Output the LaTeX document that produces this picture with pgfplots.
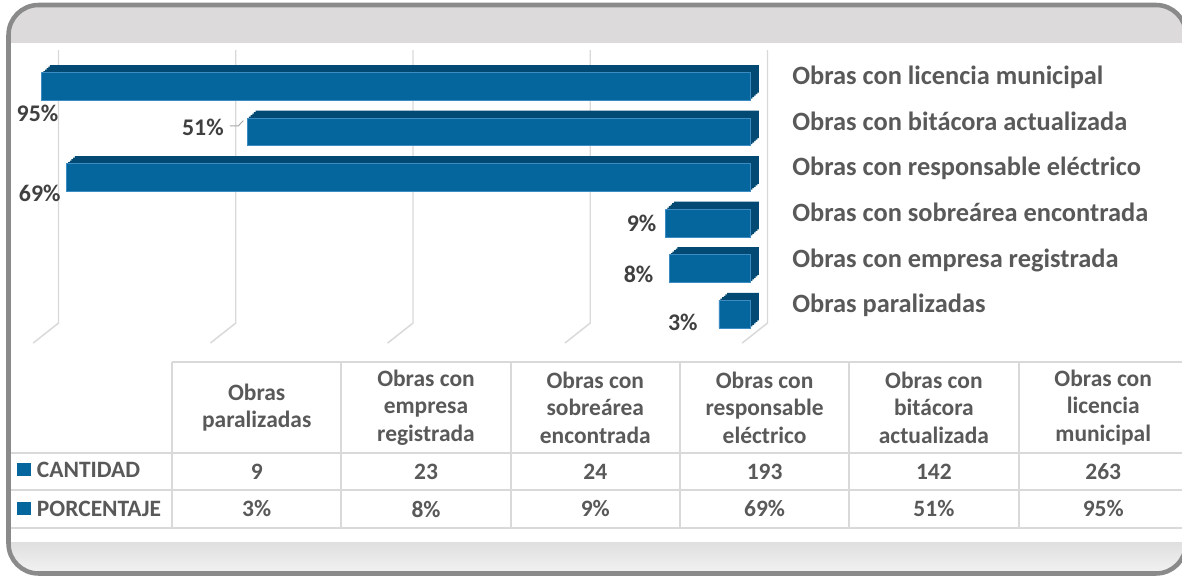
\documentclass[border=0pt]{standalone}
\usepackage{pgfplots}
\pgfplotsset{compat=1.18}
\usepackage{pgfplotstable}
\usepackage{fontspec}
\setmainfont{Carlito}
\definecolor{barfront}{HTML}{05669D}
\definecolor{bardark}{HTML}{024A73}
\definecolor{barline}{HTML}{3C8BC2}
\definecolor{txt}{HTML}{595959}
\definecolor{lbl}{HTML}{404040}
\definecolor{gridc}{HTML}{D9D9D9}
\definecolor{framec}{HTML}{8A8A8A}
\definecolor{band}{HTML}{DCDADB}

\pgfplotstableread[col sep=comma]{
cat,cant,pct,y,dx,dy
Obras paralizadas,9,3,0,-21,8
Obras con empresa registrada,23,8,1,-15.6,6.2
Obras con sobreárea encontrada,24,9,2,-9,0.9
Obras con responsable eléctrico,193,69,3,-5.7,16.3
Obras con bitácora actualizada,142,51,4,-23.4,-4.5
Obras con licencia municipal,263,95,5,16.8,26.7
}\datatable

\begin{document}
\begin{tikzpicture}[x=0.75pt,y=-0.75pt]
\useasboundingbox (0,0) rectangle (1182,577);
% frame background
\begin{scope}
\clip[rounded corners=22.5pt] (8.5,5) rectangle (1186,573.5);
\fill[white] (0,0) rectangle (1190,577);
\fill[band] (0,0) rectangle (1190,43);
\shade[top color=gray!25, bottom color=gray!8] (0,542) rectangle (1190,577);
\end{scope}
\draw[framec, line width=3.4pt, rounded corners=22.5pt] (8.5,5) rectangle (1186,573.5);

% data table grid
\begin{scope}[gridc, line width=1.5pt]
\draw (172,362) -- (1190,362);
\draw (11,453) -- (1190,453);
\draw (11,490) -- (1190,490);
\draw (11,528) -- (1190,528);
\foreach \x in {172,341.3,510.6,679.9,849.2,1018.5}
  \draw (\x,362) -- (\x,528);
\end{scope}

% header
\begin{scope}[every node/.style={align=center, text=txt, inner sep=0pt,
   font=\fontsize{17.6}{20.6}\selectfont\bfseries}]
\node at (256.7,407.5) {Obras\\paralizadas};
\node at (426.0,407.5) {Obras con\\empresa\\registrada};
\node at (595.3,407.5) {Obras con\\sobreárea\\encontrada};
\node at (764.6,407.5) {Obras con\\responsable\\eléctrico};
\node at (933.9,407.5) {Obras con\\bitácora\\actualizada};
\node at (1103.2,407.5) {Obras con\\licencia\\municipal};
\foreach \i/\cx in {0/256.7,1/426.0,2/595.3,3/764.6,4/933.9,5/1103.2}{
  \pgfplotstablegetelem{\i}{cant}\of\datatable
  \node at (\cx,471.5) {\pgfplotsretval};
  \pgfplotstablegetelem{\i}{pct}\of\datatable
  \node at (\cx,509) {\pgfplotsretval\%};
}
\fill[barfront] (16.7,462.7) rectangle (30.7,476);
\node[anchor=west] at (36.7,469.4) {CANTIDAD};
\fill[barfront] (16.7,501.7) rectangle (30.7,515);
\node[anchor=west] at (36.7,508.4) {PORCENTAJE};
\end{scope}

\begin{axis}[
  at={(563.03pt,-252.6pt)}, anchor=south east,
  scale only axis, width=531.75pt, height=204.9pt,
  xmin=-200, xmax=0, ymin=-0.5, ymax=5.5,
  clip=false,
  axis line style={draw=none},
  xtick=\empty,
  ytick={0,1,2,3,4,5},
  yticklabels from table={\datatable}{cat},
  yticklabel pos=right,
  major tick length=0pt,
  yticklabel style={anchor=base west, inner sep=0pt, xshift=31pt, yshift=1.1pt,
     font=\fontsize{19.8}{23}\selectfont\bfseries, text=txt},
  xbar, bar width=20.7pt,
]
% back-wall gridlines with floor feet
\pgfplotsinvokeforeach{0,-50,-100,-150,-200}{
  \draw[gridc, line width=1.1pt, xshift=12.6pt] (axis cs:#1,5.797) -- (axis cs:#1,-0.198) -- ++(-19pt,-15pt);
}
% depth (top and side faces)
\pgfplotsinvokeforeach{0.2,0.4,0.6,0.8,1}{
\addplot[xbar, bar shift=0pt, fill=bardark, draw=none, forget plot,
   xshift=#1*6.2pt, yshift=#1*5.6pt,
   x filter/.expression={-min(x,200)}]
   table[x=cant, y=y]{\datatable};
}
% front faces with labels
\addplot[xbar, bar shift=0pt, fill=barfront, draw=barline, line width=0.4pt,
   x filter/.expression={-min(x,200)},
   point meta=\thisrow{pct},
   visualization depends on={\thisrow{dx}\as\ldx},
   visualization depends on={\thisrow{dy}\as\ldy},
   nodes near coords={\pgfmathprintnumber[assume math mode=true, fixed, precision=0]{\pgfplotspointmeta}\%},
   every node near coord/.append style={anchor=east, inner sep=0pt,
      font=\fontsize{17.9}{20}\selectfont\bfseries, text=lbl,
      xshift=\ldx*0.75pt, yshift=-\ldy*0.75pt}]
   table[x=cant, y=y]{\datatable};
% leader line for 51%
\draw[gray!70, line width=0.7pt] (axis cs:-142,4) ++(-13.05pt,4.5pt) -- ++(6.3pt,0pt) -- ++(3.75pt,4pt);
\end{axis}
\end{tikzpicture}
\end{document}
